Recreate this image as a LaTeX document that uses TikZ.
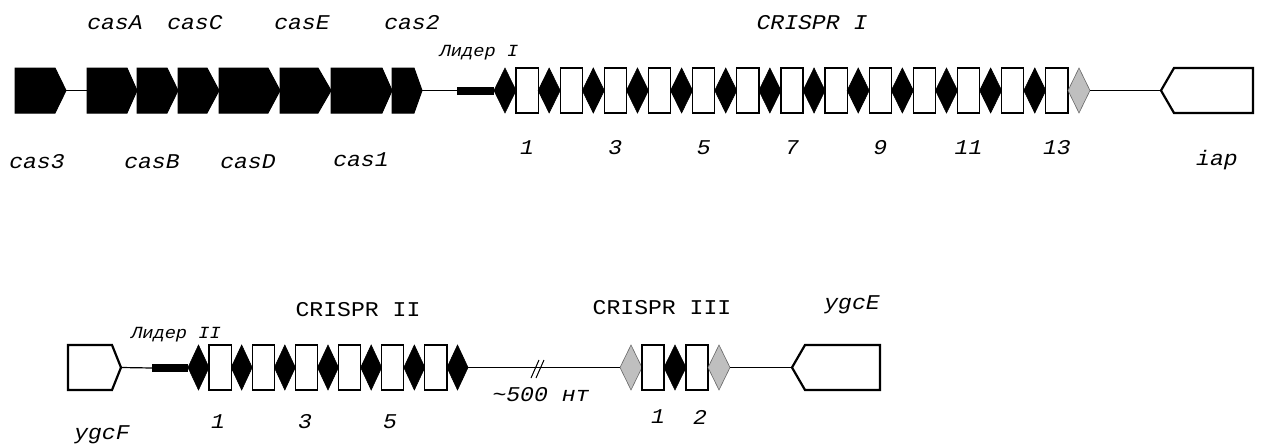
\documentclass[tikz,border=0pt]{standalone}
\usepackage{fontspec}
\newfontfamily\monof{Liberation Mono}
\usetikzlibrary{shapes.geometric}
\tikzset{
 conn/.style={line width=1.2pt, draw=black},
 blackgene/.style={fill=black, draw=black, line width=1pt, line join=miter},
 whitegene/.style={fill=white, draw=black, line width=2.2pt, line join=miter},
 dia/.style={diamond, fill=black, draw=black, line width=0.6pt, minimum width=22pt, minimum height=45pt, inner sep=0pt, outer sep=0pt},
 graydia/.style={dia, fill=black!25, draw=black!60},
 rep/.style={rectangle, fill=white, draw=black, line width=1.2pt, minimum width=22.15pt, minimum height=45pt, inner sep=0pt, outer sep=0pt},
 leaderbar/.style={rectangle, fill=black, minimum height=8pt, inner sep=0pt, outer sep=0pt},
 lab/.style={font=\monof\itshape\fontsize{21}{24}\selectfont, inner sep=0pt, xscale=1.1},
 labup/.style={font=\monof\fontsize{21}{24}\selectfont, inner sep=0pt, xscale=1.1},
 smalllab/.style={font=\monof\itshape\fontsize{17}{20}\selectfont, inner sep=0pt, xscale=1.1},
}
\newcommand{\rgene}[6]{%
 \draw[#6] (#2,#5-22.5) -- (#3,#5-22.5) -- (#4,#5) -- (#3,#5+22.5) -- (#2,#5+22.5) -- cycle;
 \coordinate (#1-W) at (#2,#5); \coordinate (#1-E) at (#4,#5);}
\newcommand{\lgene}[6]{%
 \draw[#6] (#2,#5) -- (#3,#5-22.5) -- (#4,#5-22.5) -- (#4,#5+22.5) -- (#3,#5+22.5) -- cycle;
 \coordinate (#1-W) at (#2,#5); \coordinate (#1-E) at (#4,#5);}
\begin{document}
\begin{tikzpicture}[x=1pt,y=-1pt]
\useasboundingbox (0,0) rectangle (1262,447);
% ---------- Row 1 ----------
\rgene{cas3}{15}{55}{66}{90.5}{blackgene}
\rgene{casA}{87}{127}{137}{90.5}{blackgene}
\rgene{casB}{137}{167}{178}{90.5}{blackgene}
\rgene{casC}{178}{207}{219}{90.5}{blackgene}
\rgene{casD}{219}{268}{280}{90.5}{blackgene}
\rgene{casE}{280}{318}{331}{90.5}{blackgene}
\rgene{cas1}{331}{382}{392}{90.5}{blackgene}
\rgene{cas2}{392}{414}{422}{90.5}{blackgene}
\draw[conn] (cas3-E) -- (casA-W);
\node[leaderbar, minimum width=37pt] (ldrI) at (475.5,90.5) {};
\draw[conn] (cas2-E) -- (ldrI.west);
\foreach \i in {0,...,12} {
 \node[dia] (dI\i) at ({494+\i*44.15+11},90.5) {};
 \node[rep] (rI\i) at ({494+\i*44.15+33.075},90.5) {};
}
\node[graydia] (gI) at (1079,90.5) {};
\lgene{iap}{1161}{1174}{1253}{90.5}{whitegene}
\draw[conn] (gI.east) -- (iap-W);
\foreach \i/\n in {0/1,2/3,4/5,6/7,8/9,10/11,12/13}
 \node[lab] (nI\i) at (rI\i |- 0,148) {\n};
\node[lab] (lcasA) at (115,23) {casA};
\node[lab] (lcasC) at (195,23) {casC};
\node[lab] (lcasE) at (302,23) {casE};
\node[lab] (lcas2) at (412,23) {cas2};
\node[lab] (lcrI) at (812,23) {CRISPR I};
\node[smalllab] (lldrI) at (479,53) {Лидер I};
\node[lab] (lcas3) at (37,162) {cas3};
\node[lab] (lcasB) at (152,162) {casB};
\node[lab] (lcasD) at (248,162) {casD};
\node[lab] (lcas1) at (361,160) {cas1};
\node[lab] (liap) at (1217,160) {iap};
% ---------- Row 2 ----------
\rgene{ygcF}{68}{112}{121}{367.5}{whitegene}
\node[leaderbar, minimum width=36pt] (ldrII) at (170,368) {};
\draw[conn] (ygcF-E) -- (ldrII.west);
\foreach \i in {0,...,6}
 \node[dia, minimum width=21pt] (dII\i) at ({188+\i*43.17+10.5},367.5) {};
\foreach \i in {0,...,5}
 \node[rep, minimum width=22.17pt] (rII\i) at ({188+\i*43.17+32.085},367.5) {};
\node[graydia] (gIIIa) at (631,367.5) {};
\node[rep, minimum width=22pt] (rIII0) at (653,367.5) {};
\node[dia] (dIII) at (675,367.5) {};
\node[rep, minimum width=22pt] (rIII1) at (697,367.5) {};
\node[graydia] (gIIIb) at (719,367.5) {};
\draw[conn] (dII6.east) -- (gIIIa.west);
\coordinate (brk) at (537.5,368);
\draw[conn, line width=1pt] ([shift={(-6.5,10)}]brk) -- ([shift={(1.5,-8)}]brk);
\draw[conn, line width=1pt] ([shift={(-1.5,10)}]brk) -- ([shift={(6.5,-8)}]brk);
\lgene{ygcE}{792}{805}{880}{367.5}{whitegene}
\draw[conn] (gIIIb.east) -- (ygcE-W);
\node[labup] (lcrII) at (358,310) {CRISPR II};
\node[smalllab] (lldrII) at (176,335) {Лидер II};
\node[lab] (lygcF) at (102,435) {ygcF};
\node[lab] (lnt) at (541,395) {\textasciitilde500 нт};
\node[labup] (lcrIII) at (662,308) {CRISPR III};
\node[lab] (lygcE) at (852,305) {ygcE};
\node[lab] (nII1) at (218,422) {1};
\node[lab] (nII3) at (305,422) {3};
\node[lab] (nII5) at (390,422) {5};
\node[lab] (nIII1) at (658,417) {1};
\node[lab] (nIII2) at (700,417) {2};
\end{tikzpicture}
\end{document}
